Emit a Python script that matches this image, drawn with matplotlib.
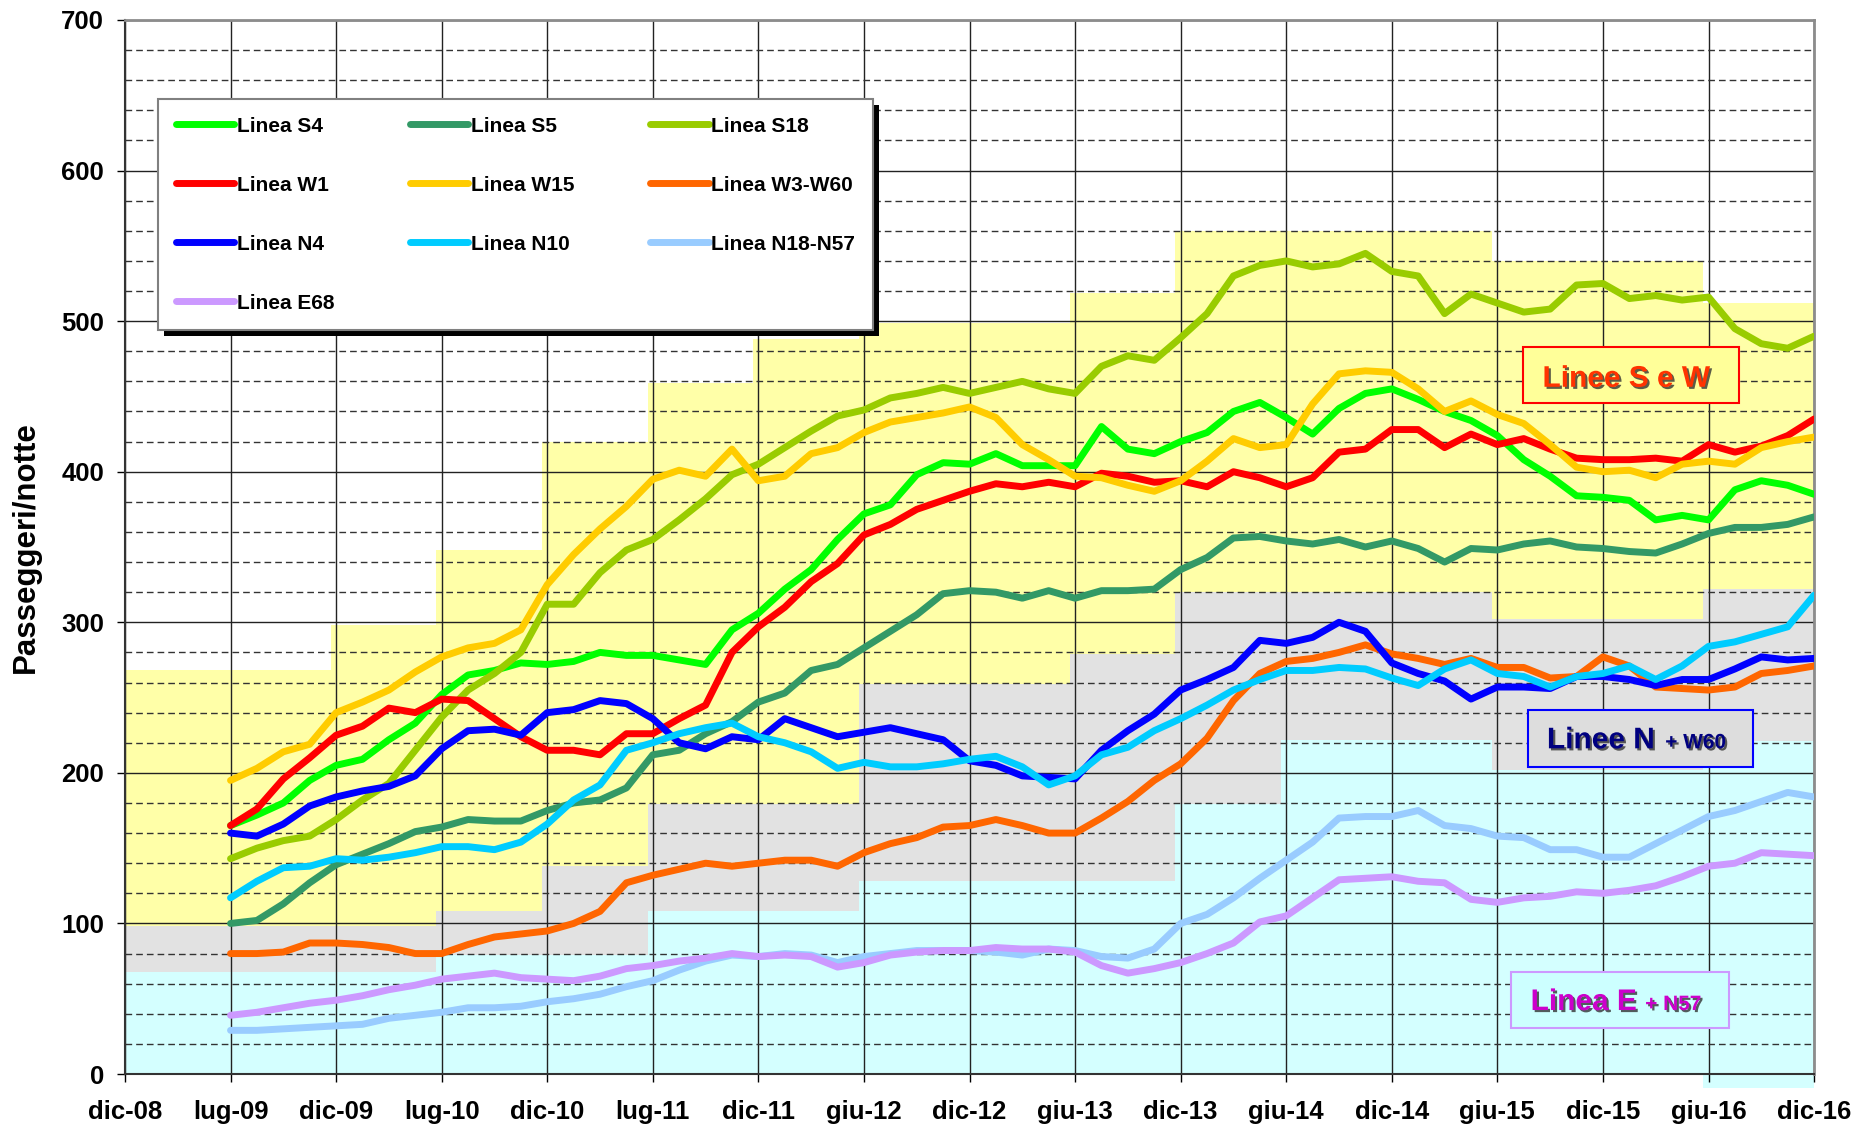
import numpy as np
import matplotlib
matplotlib.use('Agg')
from matplotlib import pyplot as plt
from matplotlib.patches import Rectangle
import matplotlib.patheffects as pe

plt.rcParams['font.family'] = ['Liberation Sans', 'DejaVu Sans']
plt.rcParams['font.weight'] = 'bold'

# asse x: semestri da dic-08 (0) a dic-16 (16)
tick_labels = ['dic-08', 'lug-09', 'dic-09', 'lug-10', 'dic-10', 'lug-11', 'dic-11', 'giu-12',
               'dic-12', 'giu-13', 'dic-13', 'giu-14', 'dic-14', 'giu-15', 'dic-15', 'giu-16', 'dic-16']

# campioni ogni quarto di semestre, da lug-09 a dic-16
x = np.arange(1, 16.01, 0.25)

s4 = [165, 172, 180, 195,
      205, 209, 222, 233,
      252, 265, 268, 273,
      272, 274, 280, 278,
      278, 275, 272, 295,
      306, 322, 335, 355,
      372, 378, 398, 406,
      405, 412, 404, 404,
      404, 430, 415, 412,
      420, 426, 440, 446,
      436, 425, 442, 452,
      455, 448, 440, 434,
      424, 408, 397, 384,
      383, 381, 368, 371,
      368, 388, 394, 391,
      385]
s5 = [100, 102, 113, 127,
      139, 146, 153, 161,
      164, 169, 168, 168,
      175, 180, 182, 190,
      212, 215, 226, 234,
      247, 253, 268, 272,
      283, 294, 305, 319,
      321, 320, 316, 321,
      316, 321, 321, 322,
      335, 343, 356, 357,
      354, 352, 355, 350,
      354, 349, 340, 349,
      348, 352, 354, 350,
      349, 347, 346, 352,
      359, 363, 363, 365,
      370]
s18 = [143, 150, 155, 158,
       169, 182, 193, 215,
       237, 255, 266, 280,
       312, 312, 333, 348,
       355, 368, 382, 398,
       405, 416, 427, 437,
       441, 449, 452, 456,
       452, 456, 460, 455,
       452, 470, 477, 474,
       489, 505, 530, 537,
       540, 536, 538, 545,
       533, 530, 505, 518,
       512, 506, 508, 524,
       525, 515, 517, 514,
       516, 495, 485, 482,
       490]
w1 = [165, 176, 196, 210,
      225, 231, 243, 240,
      249, 248, 236, 224,
      215, 215, 212, 226,
      226, 236, 245, 280,
      297, 310, 327, 339,
      358, 365, 375, 381,
      387, 392, 390, 393,
      390, 399, 397, 393,
      394, 390, 400, 396,
      390, 396, 413, 415,
      428, 428, 416, 425,
      418, 422, 415, 409,
      408, 408, 409, 407,
      418, 413, 417, 424,
      435]
w15 = [195, 203, 214, 219,
       240, 247, 255, 267,
       277, 283, 286, 295,
       325, 345, 362, 377,
       395, 401, 397, 415,
       394, 397, 412, 416,
       426, 433, 436, 439,
       443, 436, 418, 408,
       397, 396, 391, 387,
       394, 407, 422, 416,
       418, 445, 465, 467,
       466, 455, 440, 447,
       438, 432, 418, 403,
       400, 401, 396, 405,
       407, 405, 416, 420,
       423]
w3_w60 = [80, 80, 81, 87,
          87, 86, 84, 80,
          80, 86, 91, 93,
          95, 100, 108, 127,
          132, 136, 140, 138,
          140, 142, 142, 138,
          147, 153, 157, 164,
          165, 169, 165, 160,
          160, 170, 181, 195,
          206, 223, 248, 266,
          274, 276, 280, 285,
          279, 276, 272, 276,
          270, 270, 263, 264,
          277, 271, 257, 256,
          255, 257, 266, 268,
          271]
n4 = [160, 158, 166, 178,
      184, 188, 191, 198,
      216, 228, 229, 225,
      240, 242, 248, 246,
      236, 220, 216, 224,
      222, 236, 230, 224,
      227, 230, 226, 222,
      208, 205, 198, 197,
      196, 215, 228, 239,
      255, 262, 270, 288,
      286, 290, 300, 294,
      273, 266, 261, 249,
      257, 257, 256, 264,
      264, 262, 258, 262,
      262, 269, 277, 275,
      276]
n10 = [117, 128, 137, 138,
       143, 142, 144, 147,
       151, 151, 149, 154,
       166, 182, 192, 215,
       220, 226, 230, 233,
       224, 220, 214, 203,
       207, 204, 204, 206,
       209, 211, 204, 192,
       198, 212, 217, 228,
       236, 245, 255, 262,
       268, 268, 270, 269,
       263, 258, 269, 275,
       266, 264, 257, 264,
       266, 271, 262, 271,
       284, 287, 292, 297,
       318]
n18_n57 = [29, 29, 30, 31,
           32, 33, 37, 39,
           41, 44, 44, 45,
           48, 50, 53, 58,
           62, 69, 75, 79,
           78, 80, 79, 74,
           78, 80, 82, 82,
           82, 81, 79, 83,
           82, 78, 77, 83,
           100, 106, 117, 130,
           142, 154, 170, 171,
           171, 175, 165, 163,
           158, 157, 149, 149,
           144, 144, 153, 162,
           171, 175, 181, 187,
           184]
e68 = [39, 41, 44, 47,
       49, 52, 56, 59,
       63, 65, 67, 64,
       63, 62, 65, 70,
       72, 75, 77, 80,
       78, 79, 78, 71,
       74, 79, 81, 82,
       82, 84, 83, 83,
       81, 72, 67, 70,
       74, 80, 87, 101,
       105, 117, 129, 130,
       131, 128, 127, 116,
       114, 117, 118, 121,
       120, 122, 125, 131,
       138, 140, 147, 146,
       145]

series = [
    ('Linea S4', s4, '#00FF00'),
    ('Linea S5', s5, '#339966'),
    ('Linea S18', s18, '#99CC00'),
    ('Linea W1', w1, '#FF0000'),
    ('Linea W15', w15, '#FFCC00'),
    ('Linea W3-W60', w3_w60, '#FF6600'),
    ('Linea N4', n4, '#0000FF'),
    ('Linea N10', n10, '#00CCFF'),
    ('Linea N18-N57', n18_n57, '#99CCFF'),
    ('Linea E68', e68, '#CC99FF'),
]

# fasce di sfondo (capacita'), a gradini
band_edges = [0, 1.95, 2.95, 3.95, 4.95, 5.95, 6.95, 8.95, 9.95, 10.95, 12.95, 14.95, 16]
cyan_bottom = [0, 0, 0, 0, 0, 0, 0, 0, 0, 0, 0, -9]
cyan_top = [68, 68, 79, 79, 108, 108, 128, 128, 179, 222, 202, 221]
gray_top = [98, 98, 108, 138, 179, 179, 259, 279, 320, 320, 302, 322]
yellow_top = [268, 298, 348, 420, 459, 488, 499, 519, 560, 560, 540, 512]


def steps(v):
    return list(v) + [v[-1]]


fig = plt.figure(figsize=(18.65, 11.29), dpi=100)
ax = fig.add_axes([0.0670, 0.0487, 0.9057, 0.9336])

ax.fill_between(band_edges, steps(cyan_bottom), steps(cyan_top), step='post',
                color='#D4FFFF', lw=0, zorder=0.2, clip_on=False)
ax.fill_between(band_edges, steps(cyan_top), steps(gray_top), step='post',
                color='#E2E2E2', lw=0, zorder=0.2)
ax.fill_between(band_edges, steps(gray_top), steps(yellow_top), step='post',
                color='#FFFFA8', lw=0, zorder=0.2)

lines = {}
for name, vals, col in series:
    ln, = ax.plot(x, vals, color=col, lw=5, label=name, zorder=3,
                  solid_capstyle='round', solid_joinstyle='round')
    lines[name] = ln

ax.set_xlim(0, 16)
ax.set_ylim(0, 700)
ax.set_xticks(range(17))
ax.set_xticklabels(tick_labels)
ax.set_yticks(range(0, 701, 100))
ax.set_yticks(range(0, 701, 20), minor=True)
ax.set_axisbelow(True)
ax.grid(which='major', color='#222222', lw=1.0)
ax.grid(which='minor', axis='y', color='#333333', lw=1.0, linestyle=(0, (4.8, 2.9)))
ax.tick_params(which='minor', length=0)
ax.tick_params(which='major', direction='out', length=6, width=1, labelsize=18.5)
ax.tick_params(axis='x', pad=13)
ax.tick_params(axis='y', pad=9)

for s in ['left', 'bottom']:
    ax.spines[s].set_color('#333333')
    ax.spines[s].set_linewidth(1.5)
for s in ['top', 'right']:
    ax.spines[s].set_color('#8C8C8C')
    ax.spines[s].set_linewidth(2)

ax.set_ylabel('Passeggeri/notte', fontsize=22.5, fontweight='bold')
ax.yaxis.set_label_coords(-0.0497, 0.5)

# legenda a righe: riordino per le colonne
order = ['Linea S4', 'Linea W1', 'Linea N4', 'Linea E68',
         'Linea S5', 'Linea W15', 'Linea N10',
         'Linea S18', 'Linea W3-W60', 'Linea N18-N57']
leg = fig.legend([lines[n] for n in order], order, loc='upper left',
                 bbox_to_anchor=(158 / 1865, 1 - 99 / 1129), ncol=3, fontsize=15,
                 handlelength=2.8, handletextpad=0.12, columnspacing=3.65,
                 labelspacing=1.92, borderpad=0.85, borderaxespad=0,
                 fancybox=False, edgecolor='#808080', framealpha=1)
leg.get_frame().set_linewidth(1.5)

fig.canvas.draw()
bb = leg.get_window_extent().transformed(fig.transFigure.inverted())
shadow = Rectangle((bb.x0 + 6 / 1865, bb.y0 - 6 / 1129), bb.width, bb.height,
                   transform=fig.transFigure, facecolor='black', edgecolor='none', zorder=4)
fig.add_artist(shadow)

shade = [pe.withSimplePatchShadow(offset=(1.5, -1.5), shadow_rgbFace='#333333', alpha=0.8)]

# riquadri descrittivi
ax.add_patch(Rectangle((13.24, 445.6), 2.05, 37.1, facecolor='#FFFF99',
                       edgecolor='#FF0000', lw=1.5, zorder=4))
ax.text(14.22, 456.4, 'Linee S e W', ha='center', va='baseline', fontsize=21.5,
        color='#FF3300', zorder=5, path_effects=shade)

ax.add_patch(Rectangle((13.29, 203.9), 2.13, 37.8, facecolor='#DDDDDD',
                       edgecolor='#0000FF', lw=1.5, zorder=4))
ax.text(14.49, 216.3, 'Linee N', ha='right', va='baseline', fontsize=21.5,
        color='#000080', zorder=5, path_effects=shade)
ax.text(14.59, 216.3, '+ W60', ha='left', va='baseline', fontsize=15,
        color='#000080', zorder=5, path_effects=shade)

ax.add_patch(Rectangle((13.13, 30.3), 2.06, 37.6, facecolor='#CCFFFF',
                       edgecolor='#CC99FF', lw=1.5, zorder=4))
ax.text(14.32, 42.5, 'Linea E', ha='right', va='baseline', fontsize=21.5,
        color='#CC00CC', zorder=5, path_effects=shade)
ax.text(14.40, 42.5, '+ N57', ha='left', va='baseline', fontsize=15,
        color='#CC00CC', zorder=5, path_effects=shade)

fig.savefig('out.png', dpi=100)
